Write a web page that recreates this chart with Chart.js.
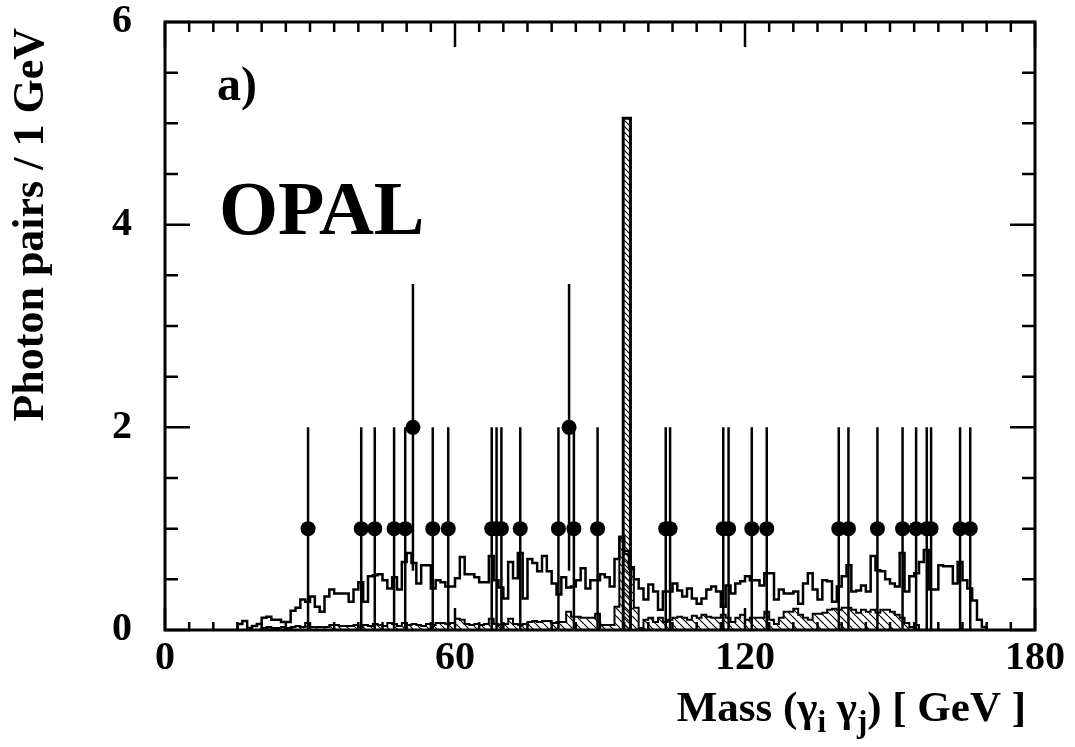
<!DOCTYPE html>
<html><head><meta charset="utf-8">
<script src="https://cdn.jsdelivr.net/npm/chart.js@4.4.0/dist/chart.umd.min.js"></script>
<style>html,body{margin:0;padding:0;background:#fff;}canvas{display:block;}</style>
</head><body>
<canvas id="c" width="1075" height="747"></canvas>
<script>
// ---- data ----
const mainStart = 15; // GeV, lower edge of first bin (1 GeV bins)
const mainValues = [
  0.06,0.09,0.02,0.04,0.06,0.12,0.13,0.10,0.10,            // 15-23
  0.08,0.08,0.19,0.22,0.30,0.28,0.33,0.23,0.18,0.33,       // 24-33
  0.40,0.36,0.36,0.36,0.28,0.40,0.47,0.28,0.53,0.54,       // 34-43
  0.55,0.49,0.41,0.52,0.40,0.67,0.76,0.66,0.46,0.64,       // 44-53
  0.64,0.41,0.49,0.47,0.43,0.43,0.51,0.72,0.55,0.55,       // 54-63
  0.52,0.47,0.47,0.73,0.49,0.42,0.31,0.67,0.51,0.76,       // 64-73
  0.31,0.70,0.66,0.58,0.73,0.58,0.46,0.35,0.52,0.42,       // 74-83
  0.43,0.49,0.61,0.41,0.49,0.49,0.55,0.52,0.43,0.70,       // 84-93
  0.92,0.78,0.62,0.50,0.41,0.30,0.45,0.38,0.20,0.38,       // 94-103
  0.38,0.46,0.39,0.33,0.41,0.31,0.26,0.31,0.40,0.43,       // 104-113
  0.38,0.23,0.44,0.36,0.46,0.48,0.53,0.49,0.49,0.44,       // 114-123
  0.56,0.56,0.30,0.40,0.36,0.36,0.38,0.26,0.46,0.56,       // 124-133
  0.40,0.30,0.49,0.48,0.28,0.43,0.53,0.64,0.38,0.39,       // 134-143
  0.44,0.38,0.73,0.59,0.58,0.50,0.46,0.43,0.76,0.38,       // 144-153
  0.53,0.56,0.67,0.79,0.40,0.40,0.64,0.63,0.63,0.46,       // 154-163
  0.67,0.49,0.41,0.29,0.10,0.03                            // 164-169
];
const hatchStart = 20;
const hatchValues = [
  0.02,0.03,0.02,0.02,0.03,0.02,0.03,0.04,0.03,0.07,       // 20-29
  0.03,0.03,0.03,0.03,0.05,0.05,0.04,0.04,0.04,0.05,       // 30-39
  0.03,0.05,0.04,0.06,0.05,0.04,0.07,0.06,0.04,0.07,       // 40-49
  0.05,0.06,0.05,0.04,0.06,0.05,0.07,0.07,0.06,0.07,       // 50-59
  0.11,0.10,0.06,0.05,0.06,0.05,0.06,0.11,0.06,0.05,       // 60-69
  0.06,0.11,0.06,0.05,0.06,0.08,0.09,0.08,0.09,0.09,       // 70-79
  0.07,0.08,0.08,0.18,0.13,0.13,0.12,0.12,0.12,0.16,       // 80-89
  0.05,0.05,0.05,0.23,0.90,0.75,0.60,0.22,0.02,0.10,       // 90-99
  0.12,0.08,0.12,0.08,0.10,0.12,0.13,0.12,0.10,0.14,       // 100-109
  0.12,0.15,0.13,0.12,0.12,0.15,0.12,0.08,0.12,0.15,       // 110-119
  0.10,0.12,0.12,0.12,0.18,0.10,0.06,0.12,0.18,0.18,       // 120-129
  0.21,0.15,0.12,0.10,0.16,0.16,0.17,0.20,0.21,0.20,       // 130-139
  0.22,0.22,0.20,0.17,0.20,0.18,0.20,0.17,0.20,0.20,       // 140-149
  0.18,0.15,0.12,0.07,0.03,0.05                            // 150-155
];
const spikeEdges = [94.8, 96.3];
const spikeValue = 5.05;
const dataMass = [29.6,40.6,43.4,47.4,49.7,51.3,55.4,58.6,67.6,68.6,69.6,73.5,81.4,83.6,84.6,89.5,
                  103.6,104.5,115.5,116.6,121.4,124.5,139.4,141.4,147.4,152.6,155.4,157.6,158.5,164.5,166.6];
const dataCounts = [1,1,1,1,1,2,1,1,1,1,1,1,1,2,1,1,
                    1,1,1,1,1,1,1,1,1,1,1,1,1,1,1];
const xTickValues = [0,60,120,180];
const yTickValues = [0,2,4,6];

// ---- helpers ----
function histPoints(start, vals){
  const pts=[{x:start,y:0}];
  vals.forEach((v,i)=>pts.push({x:start+i,y:v}));
  pts.push({x:start+vals.length,y:0});
  return pts;
}
function hatch(s, lw){
  const c=document.createElement('canvas'); c.width=c.height=s;
  const g=c.getContext('2d'); g.strokeStyle='#000'; g.lineWidth=lw;
  g.beginPath();
  for(let k=-1;k<=1;k++){ g.moveTo(k*s,0); g.lineTo(k*s+s,s); }
  g.stroke();
  return g.createPattern(c,'repeat');
}
const errPts=[];
dataMass.forEach((m,i)=>{const n=dataCounts[i],e=Math.sqrt(n);
  errPts.push({x:m,y:n-e},{x:m,y:n+e},{x:m,y:null});});
const ptData=dataMass.map((m,i)=>({x:m,y:dataCounts[i]}));
const spikePts=[{x:spikeEdges[0],y:0},{x:spikeEdges[0],y:spikeValue},{x:spikeEdges[1],y:0}];

const FONT='"Liberation Serif", "Times New Roman", serif';

const framePlugin={
  id:'frame',
  afterDraw(chart){
    const {ctx,chartArea:a,scales:{x,y}}=chart;
    ctx.save();
    ctx.strokeStyle='#000'; ctx.lineWidth=3;
    ctx.strokeRect(a.left,a.top,a.right-a.left,a.bottom-a.top);
    ctx.lineWidth=2.5;
    ctx.beginPath();
    for(let v=0;v<=180;v+=5){
      const px=x.getPixelForValue(v), major=v%60===0;
      const lb=major?22:8, lt=major?25:10;
      ctx.moveTo(px,a.bottom); ctx.lineTo(px,a.bottom-lb);
      ctx.moveTo(px,a.top); ctx.lineTo(px,a.top+lt);
    }
    for(let v=0;v<=6.001;v+=0.5){
      const py=y.getPixelForValue(v), major=Math.abs(v%2)<1e-6;
      const l=major?25:13;
      ctx.moveTo(a.left,py); ctx.lineTo(a.left+l,py);
      ctx.moveTo(a.right,py); ctx.lineTo(a.right-l,py);
    }
    ctx.stroke();
    // texts
    ctx.fillStyle='#000'; ctx.textBaseline='alphabetic'; ctx.textAlign='left';
    ctx.font='bold 48px '+FONT; ctx.fillText('a)',217,100);
    ctx.font='bold 76px '+FONT; ctx.fillText('OPAL',219,234);
    // y title
    ctx.save(); ctx.translate(43,28); ctx.rotate(-Math.PI/2);
    ctx.textAlign='right'; ctx.font='bold 44px '+FONT;
    ctx.fillText('Photon pairs / 1 GeV',0,0); ctx.restore();
    // x title with subscripts
    const big='bold 43px '+FONT, small='bold 31px '+FONT;
    const parts=[['Mass (\u03b3',big,0],['i',small,11],[' \u03b3',big,0],['j',small,11],[') [ GeV ]',big,0]];
    let tot=0; parts.forEach(p=>{ctx.font=p[1]; tot+=ctx.measureText(p[0]).width;});
    let xx=1026-tot; const base=721;
    parts.forEach(p=>{ctx.font=p[1]; ctx.fillText(p[0],xx,base+p[2]); xx+=ctx.measureText(p[0]).width;});
    ctx.restore();
  }
};

new Chart(document.getElementById('c'),{
  type:'line',
  data:{datasets:[
    {label:'Data',data:ptData,showLine:false,pointRadius:7.5,pointBackgroundColor:'#000',pointBorderColor:'#000',pointBorderWidth:0,order:0},
    {label:'Errors',data:errPts,showLine:true,spanGaps:false,pointRadius:0,borderColor:'#000',borderWidth:2.5,fill:false,order:1},
    {label:'Spike',data:spikePts,stepped:'before',pointRadius:0,
      borderColor:'#000',borderWidth:3,fill:'origin',backgroundColor:hatch(6,1.2),order:2},
    {label:'Main',data:histPoints(mainStart,mainValues),stepped:'before',pointRadius:0,borderColor:'#000',borderWidth:2.5,fill:false,order:3},
    {label:'Hatched',data:histPoints(hatchStart,hatchValues),stepped:'before',pointRadius:0,borderColor:'#000',borderWidth:2,
      fill:'origin',backgroundColor:hatch(8,1.2),order:4}
  ]},
  options:{
    responsive:false,animation:false,devicePixelRatio:1,
    layout:{padding:{top:22,right:40,left:0,bottom:0}},
    plugins:{legend:{display:false},tooltip:{enabled:false}},
    elements:{line:{tension:0}},
    scales:{
      x:{type:'linear',min:0,max:180,
        afterBuildTicks:s=>{s.ticks=xTickValues.map(v=>({value:v}));},
        ticks:{font:{family:FONT,weight:'bold',size:40},color:'#000',padding:5,maxRotation:0,autoSkip:false},
        grid:{display:false,drawTicks:false},border:{display:false},
        afterFit:s=>{s.height=117;s.paddingLeft=0;s.paddingRight=0;}},
      y:{type:'linear',min:0,max:6,
        afterBuildTicks:s=>{s.ticks=yTickValues.map(v=>({value:v}));},
        ticks:{font:{family:FONT,weight:'bold',size:40},color:'#000',padding:33},
        grid:{display:false,drawTicks:false},border:{display:false},
        afterFit:s=>{s.width=165;s.paddingTop=0;s.paddingBottom=0;}}
    }
  },
  plugins:[framePlugin]
});
</script>
</body></html>
